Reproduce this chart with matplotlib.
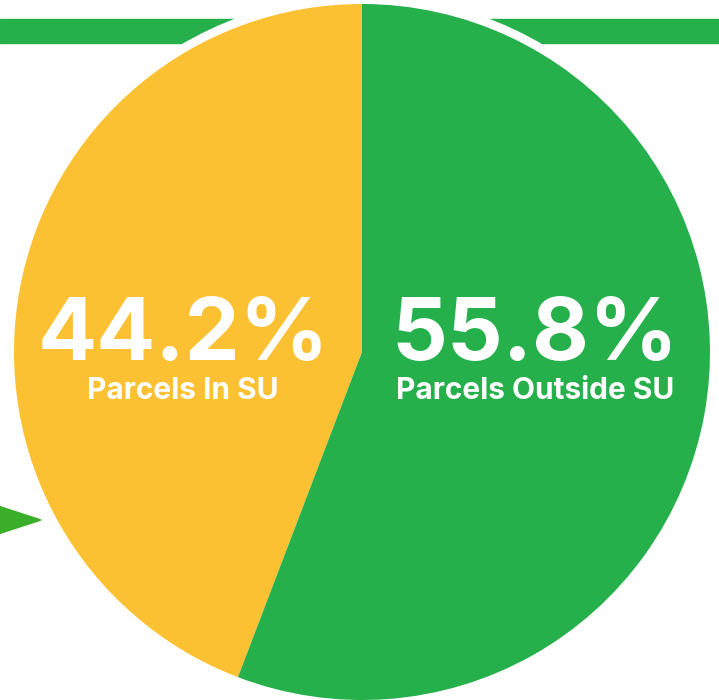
import matplotlib
matplotlib.use("Agg")
import matplotlib.pyplot as plt
from matplotlib.patches import Circle, Rectangle, Polygon

categories = ["Parcels In SU", "Parcels Outside SU"]
values = [44.2, 55.8]
pct_labels = ["44.2%", "55.8%"]

YELLOW = "#FBC132"
GREEN = "#25B04B"
ARROW_GREEN = "#3AAE2A"

W, H = 719, 700
fig = plt.figure(figsize=(W / 100, H / 100), dpi=100)
ax = fig.add_axes([0, 0, 1, 1])

cx, cy, r = 362, H - 352, 348

# green banner across the top
ax.add_patch(Rectangle((0, H - 43), W, 24, color=GREEN, zorder=1))
# white halo around pie
ax.add_patch(Circle((cx, cy), 356, color="white", zorder=2))
# arrow on the left
ax.add_patch(Polygon([(-5, H - 505), (41, H - 520), (-5, H - 535)], closed=True,
                     color=ARROW_GREEN, zorder=1))

wedges, _ = ax.pie(values, colors=[YELLOW, GREEN], startangle=90, counterclock=True,
                   center=(cx, cy), radius=r, wedgeprops=dict(linewidth=0),
                   frame=True)
for w in wedges:
    w.set_zorder(3)
ax.set_xlim(0, W)
ax.set_ylim(0, H)
ax.set_aspect("equal")
ax.axis("off")

fam = ["Inter", "DejaVu Sans"]
xs = [183, 535]
for x, p, c in zip(xs, pct_labels, categories):
    ax.text(x, H - 360, p, color="white", fontsize=63, fontweight="bold",
            family=fam, ha="center", va="baseline", zorder=5)
    ax.text(x, H - 399, c, color="white", fontsize=21.5, fontweight="bold",
            family=fam, ha="center", va="baseline", zorder=5)

fig.savefig("out.png", dpi=100)
